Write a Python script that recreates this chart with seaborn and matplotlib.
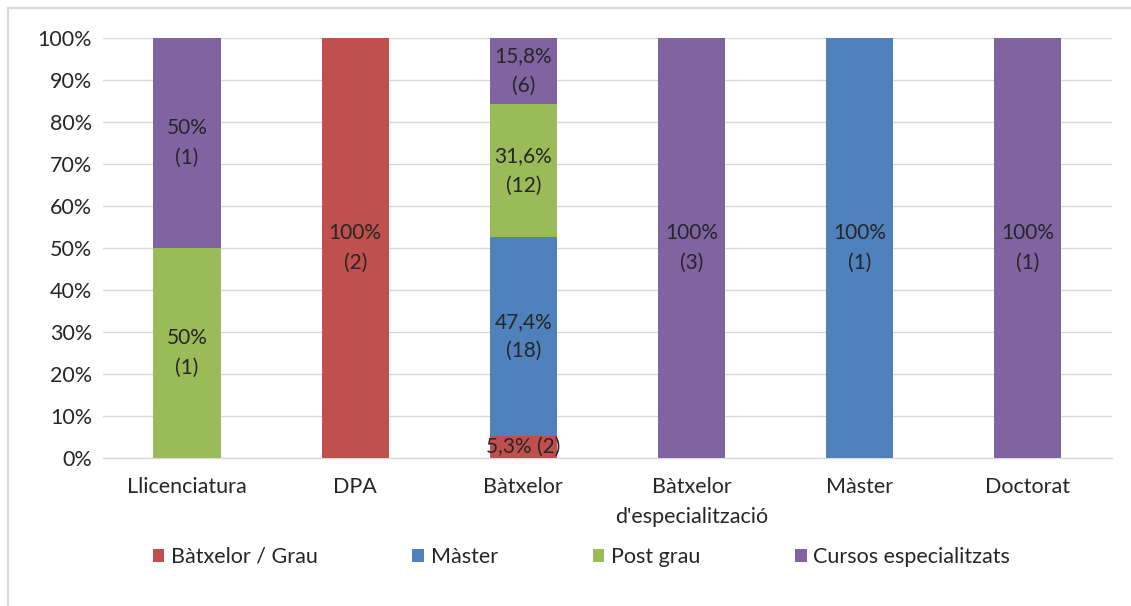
import pandas as pd
import matplotlib.pyplot as plt
import seaborn as sns
from matplotlib.patches import Rectangle, Patch

# data (counts per degree and training type)
categories = ["Llicenciatura", "DPA", "Bàtxelor", "Bàtxelor\nd'especialització", "Màster", "Doctorat"]
series_names = ["Bàtxelor / Grau", "Màster", "Post grau", "Cursos especialitzats"]
grau_counts = [0, 2, 2, 0, 0, 0]
master_counts = [0, 0, 18, 0, 1, 0]
postgrau_counts = [1, 0, 12, 0, 0, 0]
cursos_counts = [1, 0, 6, 3, 0, 1]
colors = ["#C0504D", "#4F81BD", "#9BBB59", "#8064A2"]

df = pd.DataFrame({
    "cat": categories,
    series_names[0]: grau_counts,
    series_names[1]: master_counts,
    series_names[2]: postgrau_counts,
    series_names[3]: cursos_counts,
})
totals = df[series_names].sum(axis=1)
pct = df[series_names].div(totals, axis=0) * 100
bottoms = pct.cumsum(axis=1) - pct

sns.set_theme(style="white")
plt.rcParams["font.family"] = ["Lato", "DejaVu Sans"]
txt = "#262626"
fs = 15.5

fig = plt.figure(figsize=(11.31, 6.06), dpi=100)
ax = fig.add_axes([0.0911, 0.2442, 0.8919, 0.6931])

for i, name in enumerate(series_names):
    plot_df = pd.DataFrame({"cat": categories, "pct": pct[name].values})
    sns.barplot(data=plot_df, x="cat", y="pct", order=categories, color=colors[i],
                saturation=1, width=0.4, bottom=bottoms[name].values,
                linewidth=0, ax=ax, zorder=3)
    labels = []
    for v, n in zip(pct[name].values, df[name].values):
        if n == 0:
            labels.append("")
        else:
            s = f"{v:.1f}".rstrip("0").rstrip(".").replace(".", ",") + "%"
            if v < 10:
                labels.append(f"{s} ({n})")
            else:
                labels.append(f"{s}\n({n})")
    ax.bar_label(ax.containers[-1], labels=labels, label_type="center",
                 fontsize=15, color=txt, linespacing=1.6)

ax.set_ylim(0, 100)
ax.set_xlim(-0.5, len(categories) - 0.5)
ax.set_yticks(range(0, 101, 10))
ax.set_yticklabels([f"{t}%" for t in range(0, 101, 10)], fontsize=fs, color=txt)
ax.tick_params(axis="x", labelsize=fs, labelcolor=txt, pad=14, length=0)
ax.tick_params(axis="y", pad=8, length=0)
for lbl in ax.get_xticklabels():
    lbl.set_linespacing(1.6)
ax.set_xlabel("")
ax.set_ylabel("")
ax.yaxis.grid(True, color="#D9D9D9", linewidth=1, zorder=0)
ax.set_axisbelow(True)
for s in ["left", "right", "top"]:
    ax.spines[s].set_visible(False)
ax.spines["bottom"].set_color("#D9D9D9")
ax.spines["bottom"].set_linewidth(1)

handles = [Patch(facecolor=c, edgecolor="none") for c in colors]
fig.legend(handles, series_names, loc="center", bbox_to_anchor=(0.514, 0.081),
           ncol=4, frameon=False, fontsize=fs, handlelength=0.55, handleheight=0.55,
           handletextpad=0.3, columnspacing=4.4, labelcolor=txt)

# outer chart border
fig.patches.append(Rectangle((8 / 1131, -0.05), 1.1, 1 - 8 / 606 + 0.05,
                             transform=fig.transFigure, fill=False,
                             edgecolor="#D9D9D9", linewidth=1.5))

fig.savefig("out.png", dpi=100)
